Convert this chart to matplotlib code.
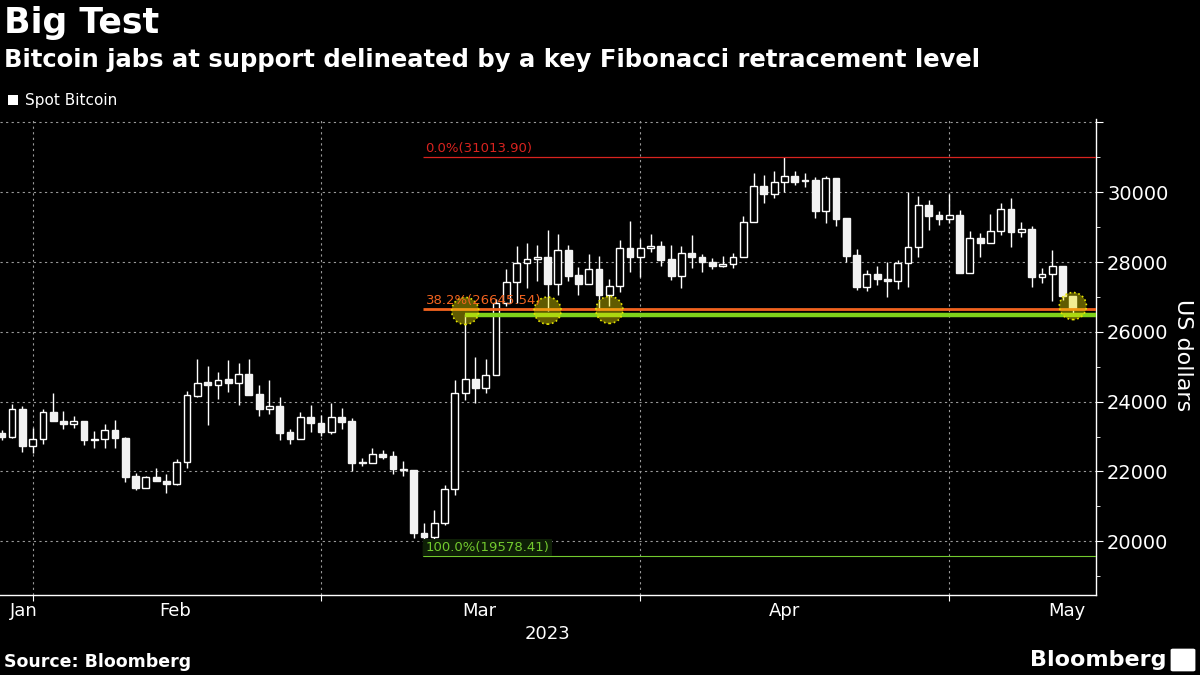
import numpy as np
import pandas as pd
import matplotlib
matplotlib.use("Agg")
import matplotlib.pyplot as plt
import matplotlib.dates as mdates
from matplotlib.patches import Rectangle, FancyBboxPatch

# daily candles, Jan 29 - May 13 2023
dates = pd.date_range("2023-01-29", periods=105, freq="D")

opens = [23090, 22990, 23800, 22730, 22940, 23690, 23450, 23370, 23440, 22910,
         22920, 23200, 22970, 21870, 21530, 21840, 21740, 21630, 22260, 24160,
         24550, 24490, 24640, 24530, 24780, 24210, 23790, 23890, 23120, 22940,
         23570, 23380, 23140, 23570, 23440, 22260, 22230, 22500, 22440, 22060,
         22040, 20250, 20110, 20510, 21510, 24240, 24640, 24400, 24770, 26820,
         27430, 27970, 28090, 28140, 27380, 28350, 27630, 27380, 27810, 27050,
         27310, 28400, 28140, 28390, 28470, 28100, 27590, 28260, 28160, 28000,
         27880, 27940, 28140, 29140, 30180, 29950, 30290, 30460, 30340, 30350,
         29450, 30400, 29260, 28200, 27280, 27660, 27520, 27450, 27970, 28430,
         29640, 29350, 29230, 29350, 27690, 28690, 28540, 28900, 29510, 28850,
         28940, 27560, 27660, 27900, 27020]
highs = [23200, 23940, 23880, 23260, 23800, 24260, 23720, 23580, 23460, 23160,
         23350, 23470, 22990, 21970, 21860, 22100, 21920, 22350, 24300, 25230,
         25010, 24850, 25180, 25110, 25230, 24470, 24610, 24120, 23230, 23710,
         23900, 23620, 23970, 23810, 23540, 22400, 22660, 22610, 22580, 22310,
         22040, 20510, 20890, 21610, 24620, 26500, 25290, 25220, 26950, 27800,
         28470, 28550, 28500, 28920, 28810, 28500, 27850, 28240, 28180, 27510,
         28640, 29180, 28650, 28810, 28590, 28500, 28450, 28780, 28240, 28110,
         28180, 28260, 29320, 30540, 30500, 30620, 31013.90, 30620, 30540, 30450,
         30480, 30420, 29260, 28370, 27780, 27900, 28000, 28070, 30000, 29900,
         29780, 29470, 29950, 29480, 28900, 28830, 29380, 29690, 29830, 29160,
         29020, 27830, 28350, 27900, 27020]
lows = [22900, 22960, 22560, 22530, 22780, 23440, 23230, 23260, 22750, 22680,
        22680, 22680, 21700, 21470, 21520, 21740, 21390, 21620, 22090, 24130,
        23340, 24090, 24280, 23900, 24200, 23590, 23640, 22900, 22780, 22940,
        23140, 23020, 23060, 23210, 22010, 22150, 22230, 22350, 21940, 21880,
        20080, 19578.41, 19960, 20480, 21320, 24050, 23950, 24260, 24770, 26730,
        26820, 27250, 27450, 26600, 27070, 27450, 27050, 27380, 26640, 26730,
        27130, 27710, 27580, 28280, 27880, 27500, 27260, 27830, 27730, 27800,
        27860, 27830, 28140, 29140, 29690, 29850, 30020, 30210, 30160, 29260,
        29130, 29040, 27990, 27190, 27160, 27350, 27000, 27230, 27290, 28140,
        28920, 29060, 29110, 27690, 27680, 28140, 28540, 28780, 28430, 28730,
        27300, 27400, 26880, 26900, 26450]
closes = [22990, 23800, 22730, 22940, 23690, 23450, 23370, 23440, 22900, 22920,
          23200, 22960, 21850, 21530, 21840, 21740, 21630, 22260, 24180, 24540,
          24490, 24630, 24530, 24780, 24200, 23780, 23890, 23110, 22940, 23570,
          23380, 23140, 23570, 23430, 22250, 22250, 22490, 22420, 22060, 22040,
          20240, 20120, 20510, 21510, 24240, 24640, 24400, 24770, 26820, 27430,
          27970, 28090, 28140, 27380, 28350, 27610, 27380, 27810, 27050, 27320,
          28400, 28140, 28390, 28470, 28070, 27590, 28260, 28160, 28000, 27880,
          27940, 28140, 29140, 30180, 29950, 30290, 30460, 30300, 30320, 29450,
          30400, 29240, 28180, 27280, 27660, 27510, 27450, 27970, 28430, 29640,
          29330, 29230, 29350, 27690, 28690, 28540, 28900, 29510, 28850, 28940,
          27560, 27660, 27900, 27020, 26690]

fib_labels = ["0.0%(31013.90)", "38.2%(26645.54)", "100.0%(19578.41)"]
fib_prices = [31013.90, 26645.54, 19578.41]
fib_colors = ["#d8231f", "#f2631f", "#72c92e"]
fib_start = 41          # candle where the retracement tool is anchored
support_level = 26480
support_start = 45
touch_idx = [45, 53, 59, 104]
touch_price = [26600, 26610, 26630, 26740]

month_starts = pd.to_datetime(["2023-02-01", "2023-03-01", "2023-04-01", "2023-05-01"])
month_label_pos = pd.to_datetime(["2023-01-31 04:00", "2023-02-14 20:00", "2023-03-16 10:00",
                                  "2023-04-15 00:00", "2023-05-12 10:00"])
month_labels = ["Jan", "Feb", "Mar", "Apr", "May"]

plt.rcParams["font.family"] = "DejaVu Sans"
fig = plt.figure(figsize=(12, 6.75), dpi=100, facecolor="black")
ax = fig.add_axes([0.0, 0.1185, 0.9133, 0.7052])
ax.set_facecolor("black")

x = mdates.date2num(dates)
o = np.array(opens); h = np.array(highs); l = np.array(lows); c = np.array(closes)
xmin = x[0] - 0.165
xmax = x[0] + 106.24

# wicks then bodies
ax.vlines(x, l, h, color="white", lw=1.0, zorder=2)
up = c >= o
body = np.maximum(np.abs(c - o), 25)
ax.bar(x[up], body[up], bottom=np.minimum(o, c)[up], width=0.66,
       facecolor="black", edgecolor="white", linewidth=1.0, zorder=3)
ax.bar(x[~up], body[~up], bottom=np.minimum(o, c)[~up], width=0.66,
       facecolor="#f2f2f2", edgecolor="#f2f2f2", linewidth=1.0, zorder=3)

# fibonacci levels
lws = [0.9, 2.0, 0.8]
for lab, p, col, lw in zip(fib_labels, fib_prices, fib_colors, lws):
    ax.hlines(p, x[fib_start] - 0.1, xmax, color=col, lw=lw, zorder=4)
    bb = None
    if lab.startswith("100"):
        bb = dict(facecolor="#0e1f06", edgecolor="none", pad=1.5)
    ax.text(x[fib_start] + 0.15, p + 55, lab, color=col, fontsize=9.5,
            va="bottom", ha="left", zorder=6, bbox=bb)
ax.vlines(x[fib_start] - 0.1, fib_prices[2], fib_prices[2] + 380, color=fib_colors[2], lw=0.8, zorder=4)

ax.hlines(support_level, x[support_start], xmax, color="#7fd11b", lw=3.2, zorder=4)

ax.scatter(x[touch_idx], touch_price, s=380, facecolor=(0.95, 0.9, 0, 0.4),
           edgecolor="#e6e600", linestyle=":", linewidth=1.2, zorder=5)

# axes styling
ax.set_xlim(xmin, xmax)
ax.set_ylim(18460, 32100)
yt = np.arange(20000, 32001, 2000)
ax.set_yticks(yt)
ax.set_yticklabels([str(v) for v in yt[:-1]] + [""])
ax.set_yticks(np.arange(19000, 32000, 2000), minor=True)
ax.yaxis.tick_right()
ax.tick_params(axis="y", which="major", colors="white", labelsize=14, length=5, pad=3)
ax.tick_params(axis="y", which="minor", colors="white", length=3)

ax.set_xticks(mdates.date2num(month_starts))
ax.set_xticklabels([])
ax.set_xticks(mdates.date2num(month_label_pos), minor=True)
ax.set_xticklabels(month_labels, minor=True)
ax.tick_params(axis="x", which="major", colors="white", length=4)
ax.tick_params(axis="x", which="minor", colors="white", length=0, labelsize=13, pad=5)

ax.grid(True, which="major", color="#9a9a9a", linestyle=(0, (2, 3)), lw=0.8, zorder=0)
for s in ["left", "top"]:
    ax.spines[s].set_visible(False)
for s in ["right", "bottom"]:
    ax.spines[s].set_color("white")
    ax.spines[s].set_linewidth(1.0)

# titles and annotations
fig.text(0.003, 0.966, "Big Test", color="white", fontsize=25, fontweight="bold", va="center")
fig.text(0.003, 0.911, "Bitcoin jabs at support delineated by a key Fibonacci retracement level",
         color="white", fontsize=17.5, fontweight="bold", va="center")
fig.patches.append(Rectangle((8 / 1200, 1 - 105 / 675), 10 / 1200, 10 / 675,
                             transform=fig.transFigure, facecolor="white", edgecolor="none"))
fig.text(25 / 1200, 1 - 100 / 675, "Spot Bitcoin", color="white", fontsize=11, va="center")
fig.text(0.986, 0.474, "US dollars", color="white", fontsize=16, rotation=-90,
         va="center", ha="center")
fig.text(548 / 1200, 1 - 634 / 675, "2023", color="white", fontsize=13, ha="center", va="center")
fig.text(0.003, 1 - 662 / 675, "Source: Bloomberg", color="white", fontsize=12.5,
         fontweight="bold", va="center")
fig.text(1166 / 1200, 1 - 660 / 675, "Bloomberg", color="white", fontsize=16,
         fontweight="bold", va="center", ha="right")
fig.patches.append(FancyBboxPatch((1173 / 1200, 1 - 670 / 675), 20 / 1200, 20 / 675,
                                  boxstyle="round,pad=0.002", transform=fig.transFigure,
                                  facecolor="white", edgecolor="none"))

fig.savefig("out.png", dpi=100, facecolor="black")
